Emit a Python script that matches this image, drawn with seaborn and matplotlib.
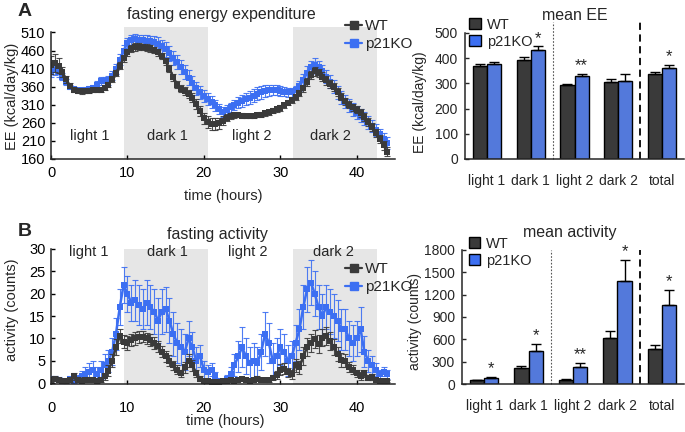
import numpy as np
import pandas as pd
import matplotlib
matplotlib.use("Agg")
import matplotlib.pyplot as plt
import seaborn as sns
from matplotlib.lines import Line2D
from matplotlib.patches import Patch

# ---- series en el tiempo (cada 0.5 h, de 0 a 44 h) ----
horas = np.arange(0, 44.5, 0.5)

ee_wt = [420, 425, 418, 400, 380, 362, 352, 348, 347, 348,
         349, 350, 350, 352, 357, 366, 380, 398, 418, 438,
         455, 465, 470, 471, 470, 468, 466, 462, 455, 445,
         430, 410, 386, 366, 354, 348, 341, 330, 312, 292,
         272, 262, 257, 256, 259, 266, 274, 279, 281, 281,
         280, 278, 278, 279, 281, 283, 286, 289, 293, 297,
         302, 308, 316, 324, 332, 342, 356, 374, 392, 402,
         398, 388, 378, 368, 358, 345, 332, 320, 310, 303,
         296, 287, 276, 262, 248, 232, 215, 198, 180]
ee_wt_err = [25, 24, 20, 14, 10, 7, 6, 6, 6, 6,
             6, 6, 6, 7, 7, 8, 8, 8, 9, 10,
             10, 10, 10, 10, 9, 9, 9, 9, 9, 9,
             10, 10, 10, 10, 10, 11, 11, 12, 13, 14,
             15, 16, 16, 16, 15, 13, 10, 8, 7, 6,
             6, 6, 6, 6, 6, 6, 7, 7, 7, 7,
             8, 8, 8, 8, 9, 9, 10, 11, 12, 12,
             12, 12, 12, 11, 11, 11, 10, 10, 10, 10,
             10, 10, 10, 10, 11, 11, 12, 12, 12]
ee_ko = [400, 405, 400, 388, 372, 360, 353, 350, 350, 351,
         353, 357, 366, 376, 376, 378, 390, 410, 435, 460,
         480, 490, 492, 490, 488, 487, 486, 484, 479, 472,
         463, 452, 440, 428, 414, 400, 385, 370, 356, 344,
         334, 326, 318, 308, 298, 290, 296, 303, 310, 316,
         320, 325, 330, 335, 340, 345, 348, 350, 351, 350,
         348, 346, 344, 344, 350, 362, 378, 398, 414, 420,
         414, 402, 388, 374, 360, 345, 330, 318, 308, 298,
         288, 280, 272, 262, 252, 240, 228, 216, 205]
ee_ko_err = [12, 12, 12, 10, 8, 6, 6, 6, 6, 7,
             8, 9, 10, 12, 12, 12, 12, 14, 15, 15,
             15, 14, 14, 14, 14, 15, 15, 16, 17, 18,
             20, 20, 20, 20, 20, 20, 20, 19, 18, 18,
             17, 17, 16, 15, 14, 13, 13, 13, 14, 15,
             16, 17, 18, 18, 18, 18, 17, 16, 15, 14,
             13, 12, 12, 12, 13, 14, 16, 18, 18, 18,
             18, 18, 18, 18, 18, 18, 18, 18, 18, 18,
             18, 18, 18, 18, 17, 17, 16, 16, 16]

act_wt = [0.8, 1.0, 0.7, 0.5, 0.4, 0.6, 1.5, 0.8, 0.5, 0.6,
          0.8, 0.6, 0.4, 0.8, 1.5, 2.8, 5.0, 8.0, 10.5, 9.3,
          9.0, 9.6, 10.0, 10.3, 10.4, 10.0, 9.6, 9.0, 8.2, 7.0,
          6.0, 5.0, 4.0, 3.0, 2.2, 3.5, 5.0, 4.0, 2.2, 1.0,
          0.5, 0.4, 0.3, 0.3, 0.3, 0.4, 0.5, 0.6, 0.5, 0.8,
          0.9, 0.6, 0.5, 0.8, 1.0, 0.8, 0.6, 0.7, 1.2, 1.8,
          3.0, 3.2, 2.4, 2.0, 4.0, 3.5, 6.0, 8.0, 9.0, 9.8,
          8.8, 10.2, 10.5, 9.4, 8.0, 6.5, 5.2, 5.0, 3.6, 3.0,
          2.2, 1.6, 2.2, 1.2, 1.4, 0.6, 0.5, 0.4, 0.5]
act_wt_err = [0.5, 0.5, 0.4, 0.3, 0.3, 0.4, 0.8, 0.5, 0.3, 0.4,
              0.5, 0.4, 0.3, 0.5, 0.8, 1.2, 1.5, 1.8, 1.5, 1.5,
              1.5, 1.4, 1.4, 1.3, 1.3, 1.3, 1.3, 1.3, 1.2, 1.2,
              1.2, 1.2, 1.0, 1.0, 0.8, 1.2, 1.5, 1.2, 0.8, 0.5,
              0.3, 0.3, 0.2, 0.2, 0.2, 0.3, 0.3, 0.4, 0.3, 0.4,
              0.5, 0.4, 0.3, 0.4, 0.5, 0.4, 0.4, 0.4, 0.6, 0.8,
              1.2, 1.2, 1.0, 1.0, 1.5, 1.5, 2.0, 2.0, 2.0, 2.0,
              2.0, 2.0, 2.0, 2.0, 1.8, 1.5, 1.5, 1.5, 1.2, 1.0,
              0.8, 0.8, 0.8, 0.6, 0.6, 0.4, 0.3, 0.3, 0.3]
act_ko = [1.0, 1.0, 0.8, 0.5, 0.5, 1.0, 0.5, 1.0, 1.5, 2.0,
          2.5, 3.0, 2.0, 3.0, 4.0, 5.0, 7.0, 11.0, 17.0, 22.0,
          20.0, 18.0, 18.5, 17.5, 16.5, 18.0, 17.0, 16.0, 14.0, 16.0,
          16.5, 14.0, 11.0, 9.0, 8.0, 7.0, 10.0, 8.0, 5.0, 6.0,
          3.0, 2.5, 3.0, 1.5, 0.5, 0.5, 1.0, 2.0, 4.0, 6.0,
          8.0, 6.0, 4.5, 5.0, 4.5, 7.0, 11.0, 9.0, 5.0, 6.0,
          8.0, 7.0, 5.0, 6.0, 9.0, 12.0, 17.0, 21.0, 22.5, 20.0,
          17.0, 15.0, 17.0, 16.0, 15.0, 14.0, 12.0, 12.0, 10.0, 9.0,
          10.0, 12.0, 7.0, 5.0, 4.0, 3.0, 2.0, 2.5, 2.0]
act_ko_err = [0.6, 0.6, 0.5, 0.4, 0.4, 0.6, 0.4, 0.8, 1.2, 1.5,
              2.0, 2.0, 1.5, 2.0, 2.5, 2.5, 3.0, 3.5, 4.0, 4.0,
              4.0, 4.0, 4.5, 4.5, 4.5, 5.0, 5.0, 5.0, 5.0, 5.0,
              5.0, 5.0, 5.0, 4.5, 4.0, 4.0, 4.0, 3.5, 3.0, 2.5,
              2.0, 1.5, 1.5, 1.0, 0.4, 0.5, 0.8, 1.5, 2.5, 3.5,
              4.5, 4.0, 3.5, 4.0, 3.5, 4.0, 5.0, 4.5, 4.0, 4.0,
              4.0, 4.0, 3.5, 3.5, 4.0, 4.5, 5.0, 5.0, 5.0, 5.0,
              5.0, 5.0, 5.0, 5.0, 5.0, 4.5, 4.5, 4.5, 4.0, 4.0,
              4.0, 5.0, 3.5, 2.5, 2.0, 1.5, 1.0, 1.0, 1.0]

# ---- promedios por periodo ----
periodos = ["light 1", "dark 1", "light 2", "dark 2", "total"]
media_ee_wt = [370, 392, 292, 306, 338]
media_ee_wt_err = [7, 11, 4, 10, 7]
media_ee_ko = [378, 433, 329, 310, 361]
media_ee_ko_err = [5, 14, 9, 28, 13]
estrellas_ee = ["", "*", "**", "", "*"]

media_act_wt = [48, 212, 58, 618, 470]
media_act_wt_err = [12, 28, 10, 90, 60]
media_act_ko = [82, 450, 232, 1380, 1060]
media_act_ko_err = [15, 90, 50, 290, 200]
estrellas_act = ["*", "*", "**", "*", "*"]

oscuro = [(9.6, 20.6), (31.6, 42.6)]

# ---- estilo ----
sns.set_theme(style="ticks")
plt.rcParams['font.family'] = ['Liberation Sans', 'DejaVu Sans']
plt.rcParams['axes.linewidth'] = 1.1

C_WT = "#3a3a3a"
C_KO = "#3c6ff2"
GRIS = "#e6e6e6"

W, H = 685, 432
fig = plt.figure(figsize=(W / 100, H / 100), dpi=100)


def px(x, y):
    return x / W, 1 - y / H


def caja(x0, y0, x1, y1):
    return [x0 / W, 1 - y1 / H, (x1 - x0) / W, (y1 - y0) / H]


def serie(ax, wt, wt_err, ko, ko_err, ms=4.0):
    for vals, errs, col in [(ko, ko_err, C_KO), (wt, wt_err, C_WT)]:
        ax.errorbar(horas, vals, yerr=errs, fmt="none", ecolor=col,
                    elinewidth=0.8, capsize=2.3, capthick=0.8, alpha=0.9)
        sns.lineplot(x=horas, y=vals, color=col, marker="s", markersize=ms,
                     markeredgewidth=0, linewidth=1.8, ax=ax)
    for a, b in oscuro:
        ax.axvspan(a, b, color=GRIS, lw=0, zorder=0)
    ax.set_xlim(0, 45)
    ax.set_xticks([0, 10, 20, 30, 40])
    sns.despine(ax=ax)
    ax.tick_params(direction="in", length=3, width=1, labelsize=10.5, colors="black")
    handles = [Line2D([], [], color=C_WT, marker="s", markersize=6, lw=1.6),
               Line2D([], [], color=C_KO, marker="s", markersize=6, lw=1.6)]
    return handles


# ---------- A: gasto energético ----------
ax1 = fig.add_axes(caja(51, 27, 395, 159))
h = serie(ax1, ee_wt, ee_wt_err, ee_ko, ee_ko_err)
ax1.set_ylim(160, 525)
ax1.set_yticks(range(160, 511, 50))
ax1.spines["left"].set_bounds(160, 510)
ax1.tick_params(axis="x", pad=5)
ax1.tick_params(axis="y", pad=4)
for txt, xx in [("light 1", 5.1), ("dark 1", 15.2), ("light 2", 26.3), ("dark 2", 36.6)]:
    ax1.text(xx, 224, txt, ha="center", va="center", fontsize=10.5)
ax1.legend(h, ["WT", "p21KO"], loc="upper left", bbox_to_anchor=(0.855, 1.06),
           frameon=False, fontsize=11, handlelength=1.1, handletextpad=0.2,
           labelspacing=0.25, borderaxespad=0, borderpad=0)

# ---------- B: actividad ----------
ax2 = fig.add_axes(caja(51, 249, 395, 384))
h = serie(ax2, act_wt, act_wt_err, act_ko, act_ko_err)
ax2.set_ylim(-0.2, 30)
ax2.set_yticks(range(0, 31, 5))
ax2.tick_params(axis="x", pad=12)
ax2.tick_params(axis="y", pad=4)
for txt, xx in [("light 1", 4.9), ("dark 1", 15.2), ("light 2", 25.8), ("dark 2", 37.0)]:
    ax2.text(xx, 29.3, txt, ha="center", va="center", fontsize=10.5)
ax2.legend(h, ["WT", "p21KO"], loc="upper left", bbox_to_anchor=(0.855, 0.90),
           frameon=False, fontsize=11, handlelength=1.1, handletextpad=0.2,
           labelspacing=0.25, borderaxespad=0, borderpad=0)


def barras(ax, wt, wt_err, ko, ko_err, estrellas, tope, paso, ymax_lineas):
    df = pd.DataFrame({"periodo": periodos * 2, "valor": wt + ko,
                       "grupo": ["WT"] * 5 + ["p21KO"] * 5})
    sns.barplot(data=df, x="periodo", y="valor", hue="grupo",
                palette={"WT": C_WT, "p21KO": C_KO}, width=0.64,
                edgecolor="black", linewidth=1, errorbar=None, legend=False, ax=ax)
    for cont, errs in [(ax.containers[0], wt_err), (ax.containers[1], ko_err)]:
        xs = [b.get_x() + b.get_width() / 2 for b in cont]
        ys = [b.get_height() for b in cont]
        ax.errorbar(xs, ys, yerr=[np.zeros(len(errs)), errs], fmt="none",
                    ecolor="black", elinewidth=1, capsize=3.5, capthick=1)
    for b, e, s in zip(ax.containers[1], ko_err, estrellas):
        if s:
            ax.text(b.get_x() + b.get_width() / 2, b.get_height() + e + tope * 0.005,
                    s, ha="center", va="bottom", fontsize=12)
    ax.axvline(1.5, ymin=0, ymax=ymax_lineas, ls=(0, (1.5, 1.5)), lw=0.8,
               color="#555555", clip_on=False)
    ax.axvline(3.5, ymin=0, ymax=ymax_lineas, ls=(0, (4, 2.5)), lw=1.3,
               color="black", clip_on=False)
    ax.set_xlim(-0.5, 4.5)
    ax.set_ylim(0, tope)
    ax.set_yticks(range(0, tope + 1, paso))
    ax.set_xlabel("")
    ax.set_ylabel("")
    sns.despine(ax=ax)
    ax.tick_params(axis="x", length=0, pad=11, labelsize=10)
    ax.tick_params(axis="y", direction="in", length=3, width=1, pad=5, labelsize=10)
    hand = [Patch(facecolor=C_WT, edgecolor="black", lw=1),
            Patch(facecolor=C_KO, edgecolor="black", lw=1)]
    return hand


ax3 = fig.add_axes(caja(465, 33, 684, 159))
hb = barras(ax3, media_ee_wt, media_ee_wt_err, media_ee_ko, media_ee_ko_err,
            estrellas_ee, 500, 100, 1.09)
ax3.legend(hb, ["WT", "p21KO"], loc="upper left", bbox_to_anchor=(0.02, 1.12),
           frameon=False, fontsize=10.5, handlelength=0.8, handleheight=0.8,
           handletextpad=0.4, labelspacing=0.2, borderaxespad=0, borderpad=0)

ax4 = fig.add_axes(caja(462, 250, 684, 384))
hb = barras(ax4, media_act_wt, media_act_wt_err, media_act_ko, media_act_ko_err,
            estrellas_act, 1800, 300, 1.0)
ax4.legend(hb, ["WT", "p21KO"], loc="upper left", bbox_to_anchor=(0.03, 1.10),
           frameon=False, fontsize=10.5, handlelength=0.8, handleheight=0.8,
           handletextpad=0.4, labelspacing=0.2, borderaxespad=0, borderpad=0)

# ---------- textos ----------
fig.text(*px(25, 11), "A", fontsize=14, fontweight="bold", ha="center", va="center")
fig.text(*px(25, 231), "B", fontsize=14, fontweight="bold", ha="center", va="center")
fig.text(*px(221, 15), "fasting energy expenditure", fontsize=11.5, ha="center", va="center")
fig.text(*px(575, 15), "mean EE", fontsize=11.5, ha="center", va="center")
fig.text(*px(217, 235), "fasting activity", fontsize=11.5, ha="center", va="center")
fig.text(*px(570, 233), "mean activity", fontsize=11.5, ha="center", va="center")
fig.text(*px(223, 196), "time (hours)", fontsize=10.5, ha="center", va="center")
fig.text(*px(225, 421), "time (hours)", fontsize=10.5, ha="center", va="center")
fig.text(*px(12, 96), "EE (kcal/day/kg)", fontsize=10.5, ha="center", va="center", rotation=90)
fig.text(*px(12, 310), "activity (counts)", fontsize=10.5, ha="center", va="center", rotation=90)
fig.text(*px(420, 102), "EE (kcal/day/kg)", fontsize=10, ha="center", va="center", rotation=90)
fig.text(*px(415, 322), "activity (counts)", fontsize=10, ha="center", va="center", rotation=90)

fig.savefig("out.png", dpi=100)
